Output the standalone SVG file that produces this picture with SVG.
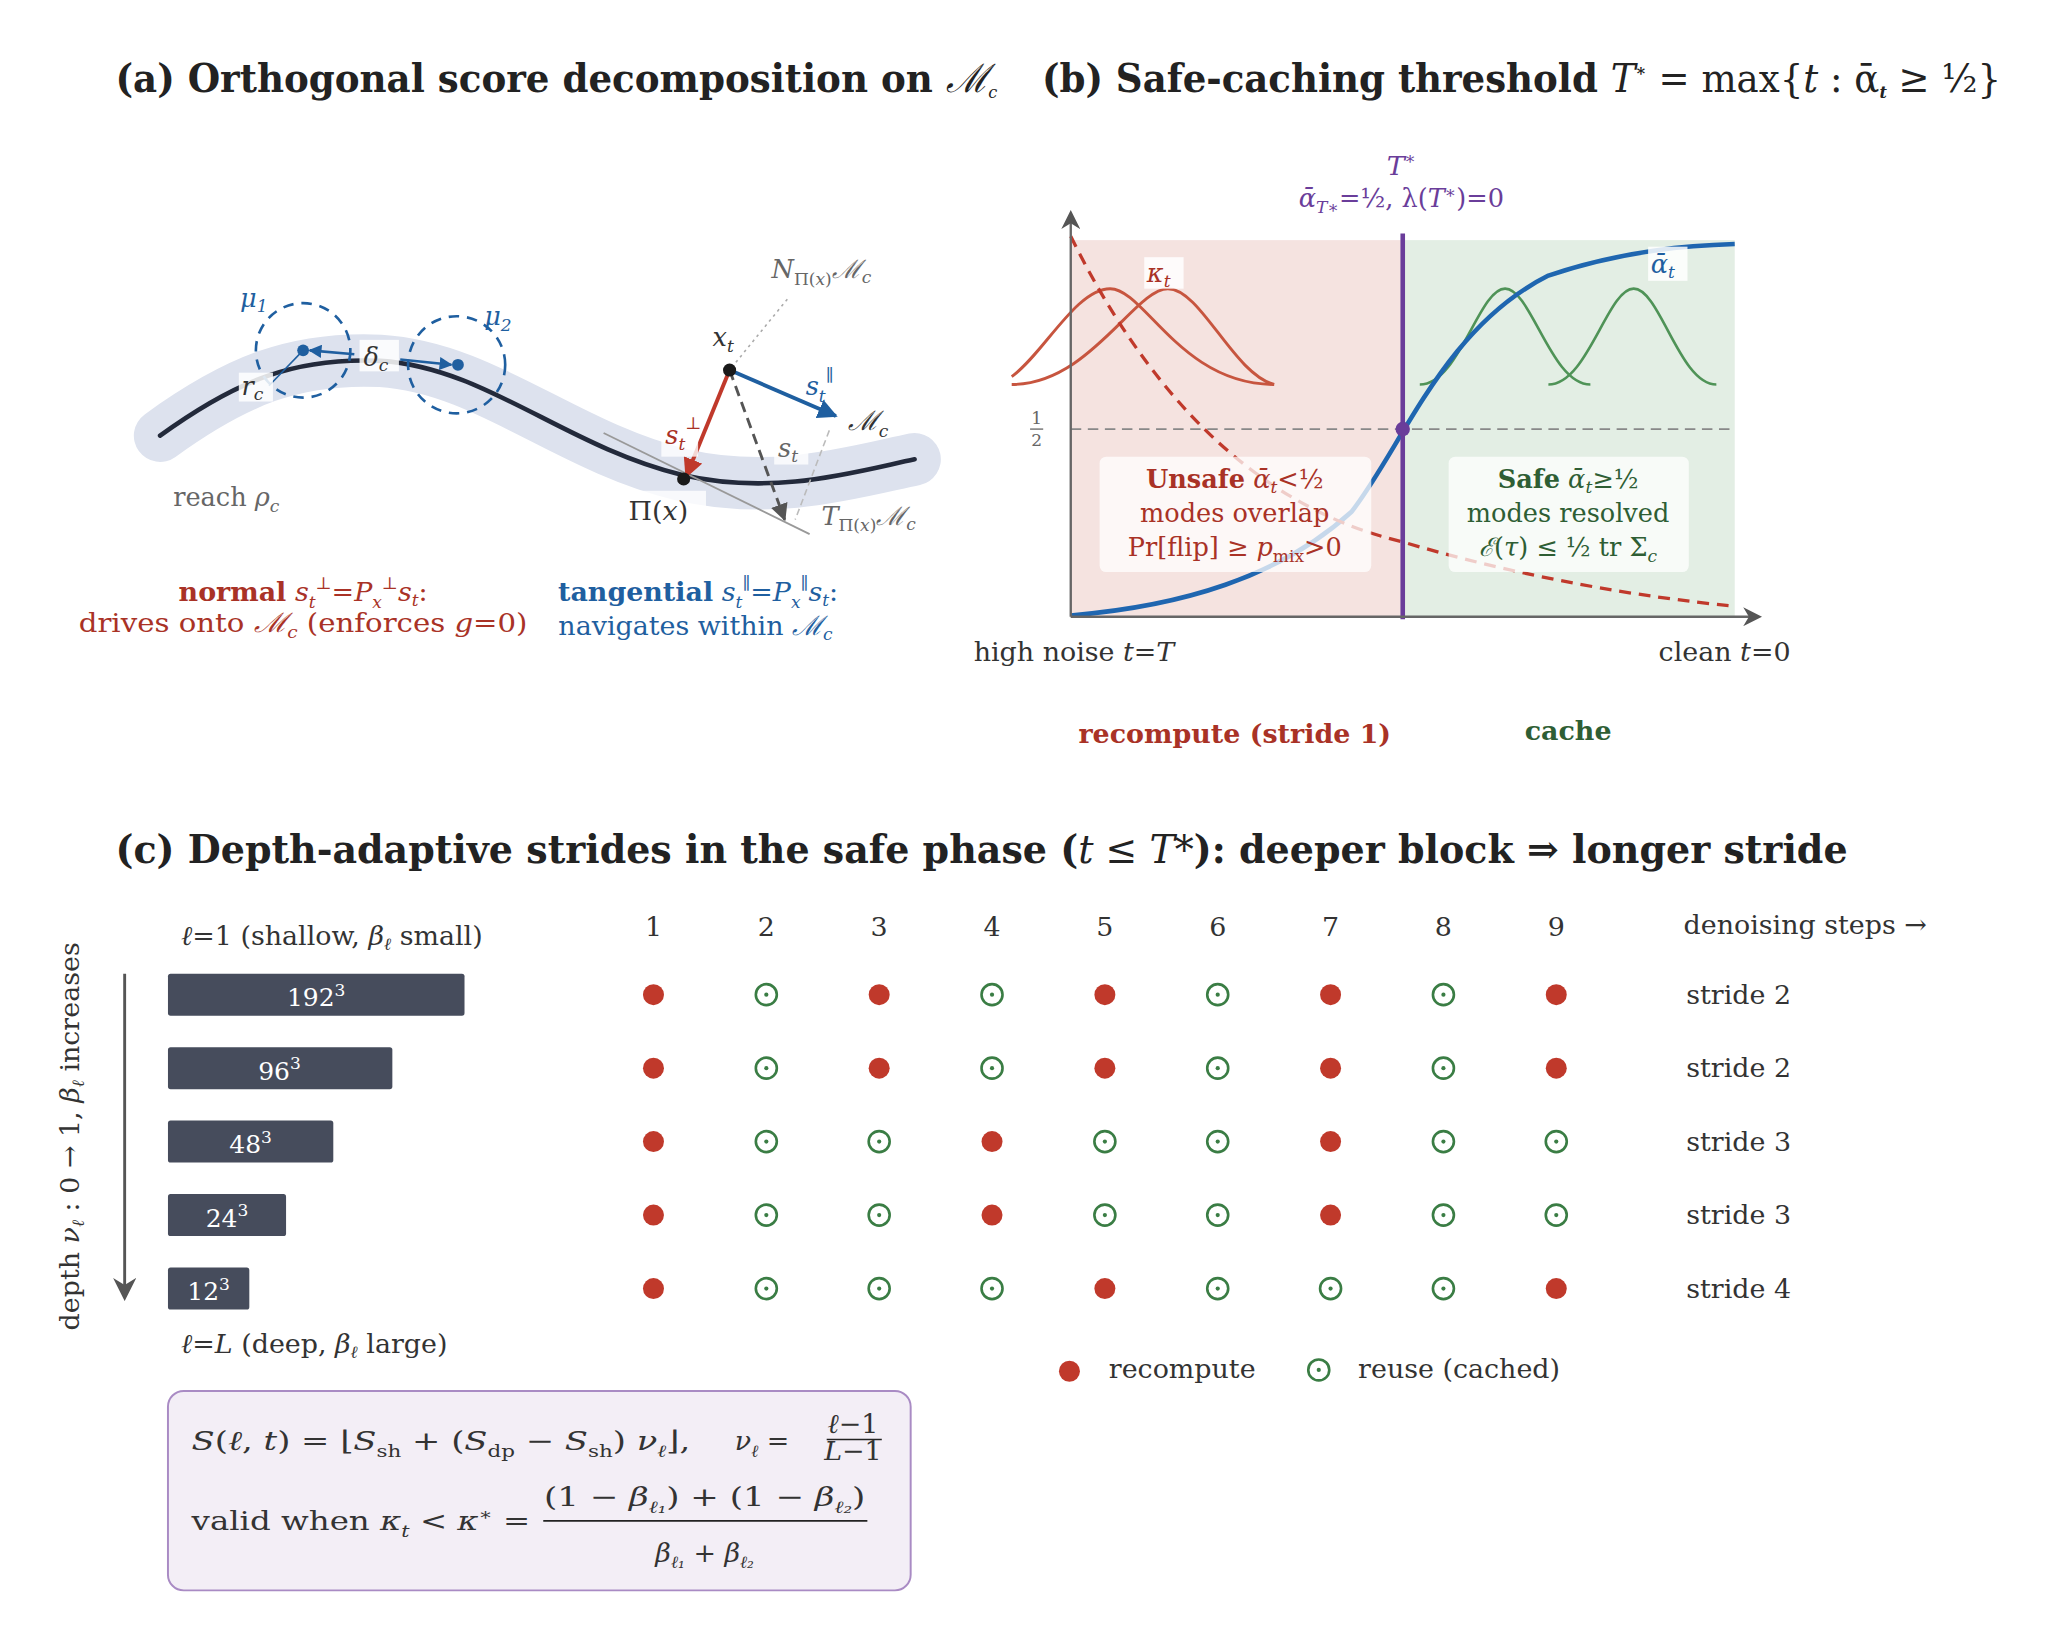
<svg xmlns="http://www.w3.org/2000/svg" width="2047" height="1625" viewBox="0 0 2047 1625">
<defs>
<style>
text{font-family:"DejaVu Serif","Liberation Serif",serif;font-size:20.5px;fill:#333}
.t{font-size:30px;font-weight:bold;fill:#222}
.i{font-style:italic}
.red{fill:#a93226}.blue{fill:#1f5fa0}.grn{fill:#2e5e34}.gray{fill:#666}.pur{fill:#6a3d9a}
.b{font-weight:bold}
.s{font-size:13px}
.m{font-size:19.5px}
.rd{fill:#c0392b}
.rg{fill:none;stroke:#3a7d44;stroke-width:2}
.rgd{fill:#3a7d44}
.bar{fill:#464c5c}
.bl{fill:#fff;font-size:19px}
</style>
<marker id="ab" viewBox="0 0 10 10" refX="9" refY="5" markerWidth="5" markerHeight="5" orient="auto"><path d="M0,0L10,5L0,10z" fill="#1f5fa0"/></marker>
<marker id="ar" viewBox="0 0 10 10" refX="9" refY="5" markerWidth="5" markerHeight="5" orient="auto"><path d="M0,0L10,5L0,10z" fill="#c0392b"/></marker>
<marker id="ag" viewBox="0 0 10 10" refX="9" refY="5" markerWidth="6" markerHeight="6" orient="auto"><path d="M0,0L10,5L0,10z" fill="#555"/></marker>
<marker id="ax" viewBox="0 0 10 10" refX="8" refY="5" markerWidth="8" markerHeight="8" orient="auto"><path d="M0,0L10,5L0,10L3,5z" fill="#555"/></marker>
</defs>
<rect width="2047" height="1625" fill="#fff"/>
<g transform="scale(1.3122)">
<!-- titles -->
<text class="t" x="88" y="70" textLength="672" lengthAdjust="spacingAndGlyphs">(a) Orthogonal score decomposition on <tspan class="i" font-weight="normal">ℳ</tspan><tspan class="i s" font-weight="normal" dy="5">c</tspan></text>
<text class="t" x="794" y="70" textLength="731" lengthAdjust="spacingAndGlyphs">(b) Safe-caching threshold <tspan class="i" font-weight="normal">T</tspan><tspan class="s" dy="-12">∗</tspan><tspan font-weight="normal" dy="12"> = max{</tspan><tspan class="i" font-weight="normal">t</tspan><tspan font-weight="normal"> : ᾱ</tspan><tspan class="i s" dy="5">t</tspan><tspan font-weight="normal" dy="-5"> ≥ ½}</tspan></text>
<text class="t" x="88" y="658" textLength="1320" lengthAdjust="spacingAndGlyphs">(c) Depth-adaptive strides in the safe phase (<tspan class="i" font-weight="normal">t</tspan><tspan font-weight="normal"> ≤ </tspan><tspan class="i" font-weight="normal">T</tspan><tspan font-weight="normal">*</tspan>): deeper block ⇒ longer stride</text>

<!-- panel a -->
<g id="manifold">
<path d="M122,332 C180,290 225,272 290,275 C370,280 430,340 520,362 C590,378 650,360 697,350" fill="none" stroke="#dde2ee" stroke-width="40" stroke-linecap="round"/>
<path d="M122,332 C180,290 225,272 290,275 C370,280 430,340 520,362 C590,378 650,360 697,350" fill="none" stroke="#232a3b" stroke-width="3.5" stroke-linecap="round"/>
<text class="gray m" x="132" y="386">reach <tspan class="i">ρ</tspan><tspan class="i s" dy="4">c</tspan></text>
</g>
<g id="modes">
<circle cx="231" cy="267" r="36" fill="none" stroke="#1f5fa0" stroke-width="2" stroke-dasharray="8,6"/>
<circle cx="348" cy="278" r="37" fill="none" stroke="#1f5fa0" stroke-width="2" stroke-dasharray="8,6"/>
<circle cx="231" cy="267" r="4.5" fill="#1f5fa0"/>
<circle cx="349" cy="278" r="4.5" fill="#1f5fa0"/>
<line x1="231" y1="267" x2="205" y2="294" stroke="#1f5fa0" stroke-width="1.2"/>
<rect x="182" y="284" width="26" height="22" fill="#fff" opacity="0.85"/>
<text class="i m" x="184" y="301">r<tspan class="s" dy="4">c</tspan></text>
<text class="i blue m" x="183" y="234">μ<tspan class="s" dy="4">1</tspan></text>
<text class="i blue m" x="369" y="248">μ<tspan class="s" dy="4">2</tspan></text>
</g>
<g id="connectors">
<line x1="270" y1="270" x2="236" y2="267" stroke="#1f5fa0" stroke-width="2" marker-end="url(#ab)"/>
<line x1="305" y1="274" x2="344" y2="278" stroke="#1f5fa0" stroke-width="2" marker-end="url(#ab)"/>
<rect x="274" y="259" width="30" height="24" fill="#fff" opacity="0.85"/>
<text class="i m" x="277" y="279">δ<tspan class="s" dy="4">c</tspan></text>
<line x1="600" y1="228" x2="556" y2="282" stroke="#aaa" stroke-width="1.2" stroke-dasharray="2,3"/>
<line x1="632" y1="328" x2="606" y2="396" stroke="#bbb" stroke-width="1.2" stroke-dasharray="5,3"/>
<line x1="460" y1="330" x2="617" y2="407" stroke="#999" stroke-width="1.4"/>
<line x1="556" y1="282" x2="598" y2="396" stroke="#555" stroke-width="2.2" stroke-dasharray="8,5" marker-end="url(#ag)"/>
<line x1="556" y1="282" x2="637" y2="317" stroke="#1f5fa0" stroke-width="3" marker-end="url(#ab)"/>
<line x1="556" y1="282" x2="523" y2="363" stroke="#c0392b" stroke-width="3" marker-end="url(#ar)"/>
<circle cx="556" cy="282" r="5" fill="#1a1a1a"/>
<circle cx="521" cy="365" r="5" fill="#1a1a1a"/>
<text class="i m" x="543" y="264" fill="#111">x<tspan class="s" dy="4">t</tspan></text>
<text class="i gray m" x="588" y="212">N<tspan class="s" dy="5" font-style="normal">Π(</tspan><tspan class="s">x</tspan><tspan class="s" font-style="normal">)</tspan><tspan dy="-5">ℳ</tspan><tspan class="s" dy="4">c</tspan></text>
<text class="i blue m" x="614" y="301">s<tspan class="s" dy="5">t</tspan><tspan class="s" dy="-16" font-style="normal">∥</tspan></text>
<text class="i" x="646" y="328" font-size="26" fill="#1a1a1a">ℳ<tspan class="s" dy="5">c</tspan></text>
<rect x="504" y="318" width="28" height="30" fill="#fff" opacity="0.8"/>
<text class="i red m" x="507" y="338">s<tspan class="s" dy="5">t</tspan><tspan class="s" dy="-16" font-style="normal">⊥</tspan></text>
<rect x="590" y="332" width="26" height="22" fill="#fff" opacity="0.8"/>
<text class="i gray m" x="593" y="348">s<tspan class="s" dy="4">t</tspan></text>
<rect x="476" y="374" width="62" height="26" fill="#fff" opacity="0.8"/>
<text x="479" y="396" font-size="21" fill="#1a1a1a">Π(<tspan class="i">x</tspan>)</text>
<text class="i gray m" x="626" y="400">T<tspan class="s" dy="5" font-style="normal">Π(</tspan><tspan class="s">x</tspan><tspan class="s" font-style="normal">)</tspan><tspan dy="-5">ℳ</tspan><tspan class="s" dy="4">c</tspan></text>
</g>
<g id="caption-a">
<text class="red" x="231" y="458" text-anchor="middle"><tspan class="b">normal</tspan> <tspan class="i">s</tspan><tspan class="i s" dy="5">t</tspan><tspan class="s" dy="-14">⊥</tspan><tspan dy="9">=</tspan><tspan class="i">P</tspan><tspan class="i s" dy="5">x</tspan><tspan class="s" dy="-14">⊥</tspan><tspan class="i" dy="9">s</tspan><tspan class="i s" dy="4">t</tspan><tspan dy="-4">:</tspan></text>
<text class="red" x="231" y="482" text-anchor="middle" textLength="342" lengthAdjust="spacingAndGlyphs">drives onto <tspan class="i">ℳ</tspan><tspan class="i s" dy="4">c</tspan><tspan dy="-4"> (enforces </tspan><tspan class="i">g</tspan>=0)</text>
<text class="blue" x="532" y="458" text-anchor="middle"><tspan class="b">tangential</tspan> <tspan class="i">s</tspan><tspan class="i s" dy="5">t</tspan><tspan class="s" dy="-14">∥</tspan><tspan dy="9">=</tspan><tspan class="i">P</tspan><tspan class="i s" dy="5">x</tspan><tspan class="s" dy="-14">∥</tspan><tspan class="i" dy="9">s</tspan><tspan class="i s" dy="4">t</tspan><tspan dy="-4">:</tspan></text>
<text class="blue" x="530" y="484" text-anchor="middle">navigates within <tspan class="i">ℳ</tspan><tspan class="i s" dy="4">c</tspan></text>
</g>

<!-- panel b -->
<g id="phase-plot">
<rect x="816" y="183" width="253" height="287" fill="#f5e3e0"/>
<rect x="1069" y="183" width="253" height="287" fill="#e3eee4"/>
<line x1="816" y1="327" x2="1322" y2="327" stroke="#888" stroke-width="1.4" stroke-dasharray="8,5"/>
<text class="gray s" x="790" y="323" text-anchor="middle">1</text>
<line x1="785" y1="327" x2="795" y2="327" stroke="#666"/>
<text class="gray s" x="790" y="340" text-anchor="middle">2</text>
<path d="M771,287 C795,270 820,220 846,220 C872,220 900,293 971,293" fill="none" stroke="#c7553f" stroke-width="2.2"/>
<path d="M771,293 C830,293 865,220 890,220 C915,220 940,285 971,293" fill="none" stroke="#c7553f" stroke-width="2.2"/>
<path d="M1082,293 C1112,293 1127,220 1147,220 C1167,220 1182,293 1212,293" fill="none" stroke="#4f9357" stroke-width="2"/>
<path d="M1180,293 C1210,293 1225,220 1245,220 C1265,220 1280,293 1308,293" fill="none" stroke="#4f9357" stroke-width="2"/>
<path d="M816,469 C900,462 975,440 1030,390 C1069,340 1100,250 1180,210 C1240,190 1290,187 1322,186" fill="none" stroke="#1f66b0" stroke-width="3.5"/>
<path d="M816,180 C870,290 950,385 1069,413 C1160,440 1250,455 1322,462" fill="none" stroke="#c0392b" stroke-width="2.5" stroke-dasharray="9,6"/>
<line x1="1069" y1="178" x2="1069" y2="472" stroke="#6a3d9a" stroke-width="3.5"/>
<circle cx="1069" cy="327" r="5.5" fill="#6a3d9a"/>
<line x1="816" y1="470" x2="1340" y2="470" stroke="#666" stroke-width="1.8" marker-end="url(#ax)"/>
<line x1="816" y1="470" x2="816" y2="163" stroke="#666" stroke-width="1.8" marker-end="url(#ax)"/>
<rect x="872" y="196" width="30" height="24" fill="#fff" opacity="0.85"/>
<text class="i red m" x="874" y="215">κ<tspan class="s" dy="4">t</tspan></text>
<rect x="1256" y="188" width="30" height="26" fill="#fff" opacity="0.85"/>
<text class="i blue m" x="1258" y="208">ᾱ<tspan class="s" dy="4">t</tspan></text>
<text class="i pur" x="1068" y="133" text-anchor="middle" font-size="22">T<tspan class="s" dy="-8" font-style="normal">∗</tspan></text>
<text class="pur m" x="1068" y="158" text-anchor="middle"><tspan class="i">ᾱ</tspan><tspan class="i s" dy="4">T∗</tspan><tspan dy="-4">=½,  λ(</tspan><tspan class="i">T</tspan><tspan class="s" dy="-7">∗</tspan><tspan dy="7">)=0</tspan></text>
<rect x="838" y="348" width="207" height="88" rx="5" fill="#fff" opacity="0.75"/>
<text class="red m" x="941" y="372" text-anchor="middle"><tspan class="b">Unsafe</tspan> <tspan class="i">ᾱ</tspan><tspan class="i s" dy="4">t</tspan><tspan dy="-4">&lt;½</tspan></text>
<text class="red m" x="941" y="398" text-anchor="middle">modes overlap</text>
<text class="red m" x="941" y="424" text-anchor="middle">Pr[flip] ≥ <tspan class="i">p</tspan><tspan class="s" dy="4">mix</tspan><tspan dy="-4">&gt;0</tspan></text>
<rect x="1104" y="348" width="183" height="88" rx="5" fill="#fff" opacity="0.75"/>
<text class="grn m" x="1195" y="372" text-anchor="middle"><tspan class="b">Safe</tspan> <tspan class="i">ᾱ</tspan><tspan class="i s" dy="4">t</tspan><tspan dy="-4">≥½</tspan></text>
<text class="grn m" x="1195" y="398" text-anchor="middle">modes resolved</text>
<text class="grn m" x="1195" y="424" text-anchor="middle"><tspan class="i">ℰ</tspan>(<tspan class="i">τ</tspan>) ≤ ½ tr Σ<tspan class="i s" dy="4">c</tspan></text>
<text x="742" y="504" fill="#555">high noise <tspan class="i">t</tspan>=<tspan class="i">T</tspan></text>
<text x="1264" y="504" fill="#555">clean <tspan class="i">t</tspan>=0</text>
<text class="red b" x="941" y="566" text-anchor="middle">recompute (stride 1)</text>
<text class="grn b" x="1195" y="564" text-anchor="middle">cache</text>
</g>

<!-- panel c -->
<g id="depth-axis">
<text fill="#666" transform="translate(60,866) rotate(-90)" text-anchor="middle">depth <tspan class="i">ν</tspan><tspan class="i s" dy="4">ℓ</tspan><tspan dy="-4"> : 0 → 1,   </tspan><tspan class="i">β</tspan><tspan class="i s" dy="4">ℓ</tspan><tspan dy="-4"> increases</tspan></text>
<line x1="95" y1="742" x2="95" y2="988" stroke="#555" stroke-width="2.2" marker-end="url(#ax)"/>
<text x="138" y="720" fill="#222"><tspan class="i">ℓ</tspan>=1 (shallow, <tspan class="i">β</tspan><tspan class="i s" dy="4">ℓ</tspan><tspan dy="-4"> small)</tspan></text>
<text x="138" y="1031" fill="#222"><tspan class="i">ℓ</tspan>=<tspan class="i">L</tspan> (deep, <tspan class="i">β</tspan><tspan class="i s" dy="4">ℓ</tspan><tspan dy="-4"> large)</tspan></text>
</g>
<g id="blocks">
<rect class="bar" x="128" y="742" width="226" height="32" rx="2"/><text class="bl" x="241" y="767" text-anchor="middle">192<tspan class="s" dy="-8">3</tspan></text>
<rect class="bar" x="128" y="798" width="171" height="32" rx="2"/><text class="bl" x="213" y="823" text-anchor="middle">96<tspan class="s" dy="-8">3</tspan></text>
<rect class="bar" x="128" y="854" width="126" height="32" rx="2"/><text class="bl" x="191" y="879" text-anchor="middle">48<tspan class="s" dy="-8">3</tspan></text>
<rect class="bar" x="128" y="910" width="90" height="32" rx="2"/><text class="bl" x="173" y="935" text-anchor="middle">24<tspan class="s" dy="-8">3</tspan></text>
<rect class="bar" x="128" y="966" width="62" height="32" rx="2"/><text class="bl" x="159" y="991" text-anchor="middle">12<tspan class="s" dy="-8">3</tspan></text>
</g>
<g id="grid">
<text x="498" y="713" text-anchor="middle" fill="#777">1</text><text x="584" y="713" text-anchor="middle" fill="#777">2</text><text x="670" y="713" text-anchor="middle" fill="#777">3</text><text x="756" y="713" text-anchor="middle" fill="#777">4</text><text x="842" y="713" text-anchor="middle" fill="#777">5</text><text x="928" y="713" text-anchor="middle" fill="#777">6</text><text x="1014" y="713" text-anchor="middle" fill="#777">7</text><text x="1100" y="713" text-anchor="middle" fill="#777">8</text><text x="1186" y="713" text-anchor="middle" fill="#777">9</text>
<text x="1283" y="712" fill="#666">denoising steps →</text>
<g><circle class="rd" cx="498" cy="758" r="8"/><circle class="rg" cx="584" cy="758" r="8"/><circle class="rgd" cx="584" cy="758" r="1.6"/><circle class="rd" cx="670" cy="758" r="8"/><circle class="rg" cx="756" cy="758" r="8"/><circle class="rgd" cx="756" cy="758" r="1.6"/><circle class="rd" cx="842" cy="758" r="8"/><circle class="rg" cx="928" cy="758" r="8"/><circle class="rgd" cx="928" cy="758" r="1.6"/><circle class="rd" cx="1014" cy="758" r="8"/><circle class="rg" cx="1100" cy="758" r="8"/><circle class="rgd" cx="1100" cy="758" r="1.6"/><circle class="rd" cx="1186" cy="758" r="8"/></g>
<g><circle class="rd" cx="498" cy="814" r="8"/><circle class="rg" cx="584" cy="814" r="8"/><circle class="rgd" cx="584" cy="814" r="1.6"/><circle class="rd" cx="670" cy="814" r="8"/><circle class="rg" cx="756" cy="814" r="8"/><circle class="rgd" cx="756" cy="814" r="1.6"/><circle class="rd" cx="842" cy="814" r="8"/><circle class="rg" cx="928" cy="814" r="8"/><circle class="rgd" cx="928" cy="814" r="1.6"/><circle class="rd" cx="1014" cy="814" r="8"/><circle class="rg" cx="1100" cy="814" r="8"/><circle class="rgd" cx="1100" cy="814" r="1.6"/><circle class="rd" cx="1186" cy="814" r="8"/></g>
<g><circle class="rd" cx="498" cy="870" r="8"/><circle class="rg" cx="584" cy="870" r="8"/><circle class="rgd" cx="584" cy="870" r="1.6"/><circle class="rg" cx="670" cy="870" r="8"/><circle class="rgd" cx="670" cy="870" r="1.6"/><circle class="rd" cx="756" cy="870" r="8"/><circle class="rg" cx="842" cy="870" r="8"/><circle class="rgd" cx="842" cy="870" r="1.6"/><circle class="rg" cx="928" cy="870" r="8"/><circle class="rgd" cx="928" cy="870" r="1.6"/><circle class="rd" cx="1014" cy="870" r="8"/><circle class="rg" cx="1100" cy="870" r="8"/><circle class="rgd" cx="1100" cy="870" r="1.6"/><circle class="rg" cx="1186" cy="870" r="8"/><circle class="rgd" cx="1186" cy="870" r="1.6"/></g>
<g><circle class="rd" cx="498" cy="926" r="8"/><circle class="rg" cx="584" cy="926" r="8"/><circle class="rgd" cx="584" cy="926" r="1.6"/><circle class="rg" cx="670" cy="926" r="8"/><circle class="rgd" cx="670" cy="926" r="1.6"/><circle class="rd" cx="756" cy="926" r="8"/><circle class="rg" cx="842" cy="926" r="8"/><circle class="rgd" cx="842" cy="926" r="1.6"/><circle class="rg" cx="928" cy="926" r="8"/><circle class="rgd" cx="928" cy="926" r="1.6"/><circle class="rd" cx="1014" cy="926" r="8"/><circle class="rg" cx="1100" cy="926" r="8"/><circle class="rgd" cx="1100" cy="926" r="1.6"/><circle class="rg" cx="1186" cy="926" r="8"/><circle class="rgd" cx="1186" cy="926" r="1.6"/></g>
<g><circle class="rd" cx="498" cy="982" r="8"/><circle class="rg" cx="584" cy="982" r="8"/><circle class="rgd" cx="584" cy="982" r="1.6"/><circle class="rg" cx="670" cy="982" r="8"/><circle class="rgd" cx="670" cy="982" r="1.6"/><circle class="rg" cx="756" cy="982" r="8"/><circle class="rgd" cx="756" cy="982" r="1.6"/><circle class="rd" cx="842" cy="982" r="8"/><circle class="rg" cx="928" cy="982" r="8"/><circle class="rgd" cx="928" cy="982" r="1.6"/><circle class="rg" cx="1014" cy="982" r="8"/><circle class="rgd" cx="1014" cy="982" r="1.6"/><circle class="rg" cx="1100" cy="982" r="8"/><circle class="rgd" cx="1100" cy="982" r="1.6"/><circle class="rd" cx="1186" cy="982" r="8"/></g>
<text x="1285" y="765" fill="#555">stride 2</text>
<text x="1285" y="821" fill="#555">stride 2</text>
<text x="1285" y="877" fill="#555">stride 3</text>
<text x="1285" y="933" fill="#555">stride 3</text>
<text x="1285" y="989" fill="#555">stride 4</text>
</g>
<g id="legend">
<circle class="rd" cx="815" cy="1045" r="8"/><text x="845" y="1050" fill="#222">recompute</text>
<circle class="rg" cx="1005" cy="1044" r="8"/><circle class="rgd" cx="1005" cy="1044" r="1.6"/><text x="1035" y="1050" fill="#222">reuse (cached)</text>
</g>
<g id="formula">
<rect x="128" y="1060" width="566" height="152" rx="12" fill="#f3eef6" stroke="#a98bc4" stroke-width="1.5"/>
<text x="146" y="1105" font-size="22" fill="#222" textLength="380" lengthAdjust="spacingAndGlyphs"><tspan class="i">S</tspan>(<tspan class="i">ℓ</tspan>, <tspan class="i">t</tspan>) = ⌊<tspan class="i">S</tspan><tspan class="s" dy="5">sh</tspan><tspan dy="-5"> + (</tspan><tspan class="i">S</tspan><tspan class="s" dy="5">dp</tspan><tspan dy="-5"> − </tspan><tspan class="i">S</tspan><tspan class="s" dy="5">sh</tspan><tspan dy="-5">) </tspan><tspan class="i">ν</tspan><tspan class="i s" dy="5">ℓ</tspan><tspan dy="-5">⌋,</tspan></text>
<text x="560" y="1105" font-size="22" fill="#222"><tspan class="i">ν</tspan><tspan class="i s" dy="5">ℓ</tspan><tspan dy="-5"> =</tspan></text>
<text x="650" y="1092" font-size="17" text-anchor="middle" fill="#222"><tspan class="i">ℓ</tspan>−1</text>
<line x1="630" y1="1097" x2="672" y2="1097" stroke="#222" stroke-width="1"/>
<text x="650" y="1113" font-size="17" text-anchor="middle" fill="#222"><tspan class="i">L</tspan>−1</text>
<text x="146" y="1166" font-size="22" fill="#222" textLength="258" lengthAdjust="spacingAndGlyphs">valid when <tspan class="i">κ</tspan><tspan class="i s" dy="5">t</tspan><tspan dy="-5"> &lt; </tspan><tspan class="i">κ</tspan><tspan class="s" dy="-8">∗</tspan><tspan dy="8"> =</tspan></text>
<text x="537" y="1148" font-size="22" text-anchor="middle" fill="#222" textLength="245" lengthAdjust="spacingAndGlyphs">(1 − <tspan class="i">β</tspan><tspan class="i s" dy="5">ℓ₁</tspan><tspan dy="-5">) + (1 − </tspan><tspan class="i">β</tspan><tspan class="i s" dy="5">ℓ₂</tspan><tspan dy="-5">)</tspan></text>
<line x1="414" y1="1159" x2="661" y2="1159" stroke="#222" stroke-width="1.2"/>
<text x="537" y="1190" font-size="22" text-anchor="middle" fill="#222"><tspan class="i">β</tspan><tspan class="i s" dy="5">ℓ₁</tspan><tspan dy="-5"> + </tspan><tspan class="i">β</tspan><tspan class="i s" dy="5">ℓ₂</tspan></text>
</g>
</g>
</svg>
